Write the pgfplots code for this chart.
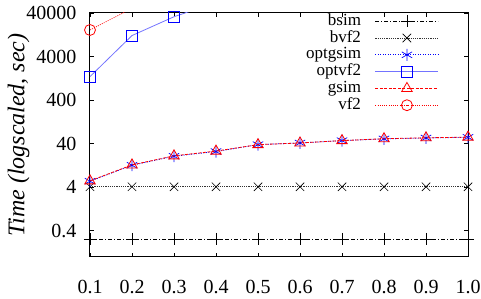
\documentclass[border=0pt]{standalone}
\usepackage{fontspec}
\setmainfont{Liberation Serif}
\usepackage{pgfplots}
\pgfplotsset{compat=1.18}
\begin{document}
\begin{tikzpicture}
\begin{axis}[
  scale only axis,
  width=378pt, height=244pt,
  ymode=log,
  xmin=0.1, xmax=1.0,
  ymin=0.1, ymax=40000,
  xtick={0.1,0.2,0.3,0.4,0.5,0.6,0.7,0.8,0.9,1.0},
  xticklabels={0.1,0.2,0.3,0.4,0.5,0.6,0.7,0.8,0.9,1.0},
  ytick={0.4,4,40,400,4000,40000},
  yticklabels={0.4,4,40,400,4000,40000},
  minor ytick={},
  log basis y=10,
  tick align=inside,
  major tick length=4pt,
  tick style={black, line width=0.6pt},
  axis line style={line width=1pt},
  ticklabel style={font=\fontsize{20}{20}\selectfont},
  xticklabel shift=20pt,
  yticklabel style={xshift=-10pt},
  ylabel={\itshape Time (logscaled, sec)},
  ylabel style={font=\fontsize{24}{24}\selectfont, yshift=-10pt},
  clip mode=individual,
  legend style={draw=none, fill=none, at={(0.923,0.995)}, anchor=north east,
    row sep=2.8pt, column sep=14pt, inner sep=0pt, outer sep=0pt,
    nodes={inner sep=0pt, outer sep=0pt, text height=11pt, text depth=3pt, font=\fontsize{17}{17}\selectfont}},
  legend cell align=right,
  legend plot pos=right,
  legend image code/.code={\draw[mark repeat=2,mark phase=2] plot coordinates {(0pt,0pt) (31.5pt,0pt) (63pt,0pt)};},
]
\addplot[black, line width=0.7pt, dash pattern=on 4pt off 2pt on 1pt off 2pt, mark=+, mark size=6pt, mark options={solid, line width=0.7pt}]
  coordinates {(0.1,0.26)(0.2,0.26)(0.3,0.26)(0.4,0.26)(0.5,0.26)(0.6,0.26)(0.7,0.26)(0.8,0.26)(0.9,0.26)(1.0,0.26)};
\addlegendentry{bsim}
\addplot[black!80, line width=0.9pt, dash pattern=on 1.2pt off 1pt, mark=x, mark size=6pt, mark options={solid, black, line width=0.7pt}]
  coordinates {(0.1,4.1)(0.2,4.1)(0.3,4.1)(0.4,4.1)(0.5,4.1)(0.6,4.1)(0.7,4.1)(0.8,4.1)(0.9,4.1)(1.0,4.1)};
\addlegendentry{bvf2}
\addplot[blue, line width=0.8pt, dash pattern=on 1pt off 1.5pt, mark=asterisk, mark size=6pt, mark options={solid, line width=0.7pt}]
  coordinates {(0.1,5.5)(0.2,12.8)(0.3,20.6)(0.4,26.4)(0.5,38)(0.6,41.5)(0.7,47)(0.8,51.5)(0.9,54)(1.0,56)};
\addlegendentry{optgsim}
\addplot[blue!55, line width=0.8pt, mark=square, mark size=5.5pt, mark options={solid, blue, line width=0.8pt}]
  coordinates {(0.1,1385)(0.2,12150)(0.3,32800)(0.4,70000)};
\addlegendentry{optvf2}
\addplot[red, line width=0.8pt, dash pattern=on 3pt off 1.5pt, mark=triangle, mark size=6pt, mark options={solid, line width=0.8pt}]
  coordinates {(0.1,5.6)(0.2,13)(0.3,21)(0.4,27)(0.5,38)(0.6,41.5)(0.7,47)(0.8,52)(0.9,54.5)(1.0,56.5)};
\addlegendentry{gsim}
\addplot[red, line width=0.7pt, dash pattern=on 1pt off 1.2pt, mark=o, mark size=5.5pt, mark options={solid, line width=0.8pt}]
  coordinates {(0.1,16300)(0.2,51000)};
\addlegendentry{vf2}
\end{axis}
\pgfresetboundingbox
\path (-90pt,-42pt) rectangle (391pt,257pt);
\end{tikzpicture}
\end{document}
